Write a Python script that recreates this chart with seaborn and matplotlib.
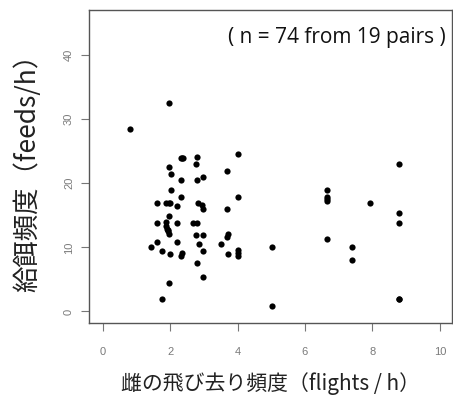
import matplotlib
matplotlib.use("Agg")
import matplotlib.pyplot as plt
import seaborn as sns
import pandas as pd

# Data
flights = [0.81, 1.98, 2.31, 2.37, 2.81, 2.77, 1.98, 2.02, 2.31, 2.81,
           2.98, 3.69, 4.00, 2.02, 2.31, 4.00, 1.62, 1.88, 1.98, 2.21,
           2.84, 2.94, 2.98, 3.69, 1.98, 1.62, 1.88, 1.88, 1.90, 1.93,
           1.98, 2.21, 2.67, 2.80, 2.76, 2.97, 3.72, 3.69, 1.62, 2.21,
           2.85, 3.50, 1.42, 1.77, 2.00, 2.34, 2.31, 2.97, 3.72, 4.00,
           4.00, 4.00, 2.81, 2.97, 1.98, 1.77, 5.01, 5.01, 6.66, 6.66,
           6.66, 6.66, 6.66, 7.38, 7.38, 7.93, 8.79, 8.79, 8.79, 8.79,
           8.79, 1.95, 2.00, 2.34]
feeds = [28.4, 32.5, 24.0, 24.0, 24.1, 23.0, 22.5, 21.4, 20.5, 20.5,
         20.9, 21.9, 24.6, 18.9, 17.9, 17.9, 16.9, 16.9, 16.9, 16.5,
         16.9, 16.6, 16.0, 15.95, 14.95, 13.8, 13.9, 13.35, 12.9, 12.5,
         12.1, 13.8, 13.8, 13.8, 11.95, 11.95, 12.1, 11.6, 10.9, 10.9,
         10.5, 10.55, 10.0, 9.5, 9.0, 9.1, 8.6, 9.5, 8.9, 9.6,
         9.1, 8.7, 7.5, 5.45, 4.4, 1.95, 10.0, 0.9, 18.95, 17.9,
         17.5, 17.3, 11.3, 10.0, 8.05, 16.9, 23.0, 15.4, 13.8, 1.95,
         1.95, 12.7, 16.9, 24.0]
x_ticks = [0, 2, 4, 6, 8, 10]
y_ticks = [0, 10, 20, 30, 40]
x_label = "雌の飛び去り頻度（flights / h）"
y_label = "給餌頻度（feeds/h）"
note = "( n = 74 from 19 pairs )"

df = pd.DataFrame({"flights": flights, "feeds": feeds})

sns.set_style("white")
plt.rcParams["font.family"] = ["Noto Sans CJK JP", "DejaVu Sans"]

fig = plt.figure(figsize=(4.53, 4.01), dpi=100)
ax = fig.add_axes([0.197, 0.1945, 0.800, 0.7805])

sns.scatterplot(data=df, x="flights", y="feeds", ax=ax, color="black",
                s=20, linewidth=0, legend=False)

ax.set_xlim(-0.4, 10.35)
ax.set_ylim(-1.8, 47.0)
ax.set_xticks(x_ticks)
ax.set_yticks(y_ticks)
ax.set_xticklabels([str(t) for t in x_ticks], family="Liberation Sans",
                   fontsize=8, color="#7a7a7a")
ax.set_yticklabels([str(t) for t in y_ticks], family="Liberation Sans",
                   fontsize=8, color="#7a7a7a", rotation=90, va="center")
ax.tick_params(axis="x", direction="out", length=6, width=0.8,
               color="#777777", pad=11, bottom=True)
ax.tick_params(axis="y", direction="out", length=6, width=0.8,
               color="#777777", pad=5, left=True)

for sp in ax.spines.values():
    sp.set_color("#555555")
    sp.set_linewidth(1.0)

ax.set_xlabel(x_label, fontsize=15, color="#222222", va="center")
ax.xaxis.set_label_coords(0.5, -0.192)
ax.set_ylabel(y_label, fontsize=19, color="#222222", va="center")
ax.yaxis.set_label_coords(-0.17, 0.5)

ax.text(0.984, 0.913, note, transform=ax.transAxes, ha="right", va="center",
        fontsize=15, family="Open Sans", fontweight="medium", color="#111111")

fig.savefig("out.png", dpi=100)
